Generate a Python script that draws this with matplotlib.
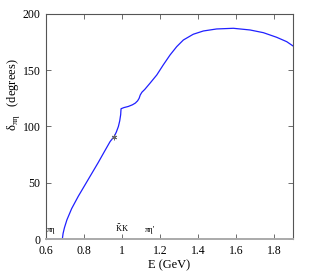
import matplotlib

matplotlib.use("Agg")
import matplotlib.pyplot as plt

plt.rcParams["font.family"] = ["Liberation Serif", "DejaVu Serif"]

# phase shift
energy = [0.60, 0.686, 0.690, 0.697, 0.710, 0.735, 0.770, 0.805, 0.840, 0.875,
          0.910, 0.937, 0.960, 0.970, 0.981, 0.988, 0.993, 0.995, 1.010, 1.033,
          1.055, 1.070, 1.082, 1.090, 1.096, 1.105, 1.120, 1.147, 1.183, 1.217,
          1.253, 1.288, 1.323, 1.375, 1.428, 1.498, 1.586, 1.674, 1.744, 1.814,
          1.867, 1.90]
delta = [0.0, 0.0, 5.0, 10.0, 17.0, 27.0, 38.0, 48.0, 58.0, 68.0,
         78.5, 86.5, 91.5, 95.0, 100.0, 105.0, 110.5, 115.8, 116.8, 117.8,
         119.3, 120.8, 122.8, 125.0, 128.0, 130.5, 133.0, 138.4, 145.8, 154.7,
         163.6, 171.0, 176.9, 182.0, 184.9, 186.7, 187.3, 185.8, 183.4, 179.3,
         175.4, 171.6]

marker_e = [0.958]
marker_d = [91.0]

thresholds = [("πη", 0.63), ("$\\bar{\\mathregular{K}}$K", 0.998), ("πη'", 1.147)]

fig = plt.figure(figsize=(3.14, 2.75), dpi=100)
ax = fig.add_axes([46 / 314, 36 / 275, 247 / 314, 225 / 275])

ax.plot(energy, delta, color="#2020ff", lw=0.9)
ax.plot(marker_e, marker_d, marker=(6, 2, 0), ls="none", color="#666666", ms=4, mew=0.6)

for name, e in thresholds:
    ax.text(e, 6.5, name, fontsize=6, ha="center", va="baseline")

ax.set_xlim(0.6, 1.9)
ax.set_ylim(0, 200)
ax.set_xticks([0.6, 0.8, 1.0, 1.2, 1.4, 1.6, 1.8])
ax.set_xticklabels(["0.6", "0.8", "1", "1.2", "1.4", "1.6", "1.8"])
ax.set_yticks([0, 50, 100, 150, 200])
ax.tick_params(direction="in", top=True, right=True, labelsize=8.5,
               length=3.5, width=0.6, color="#555555", pad=4)
for side in ["top", "left", "right"]:
    ax.spines[side].set_color("#555555")
    ax.spines[side].set_linewidth(0.8)
ax.spines["bottom"].set_color("#aaaaaa")
ax.spines["bottom"].set_linewidth(1.4)

ax.set_xlabel("E (GeV)", fontsize=9, labelpad=2)
fig.text(13 / 314, 1 - 95 / 275, "δ$_{\\mathregular{πη}}$   (degrees)", fontsize=9,
         rotation=90, ha="center", va="center")

fig.savefig("out.png", dpi=100)
plt.close(fig)
